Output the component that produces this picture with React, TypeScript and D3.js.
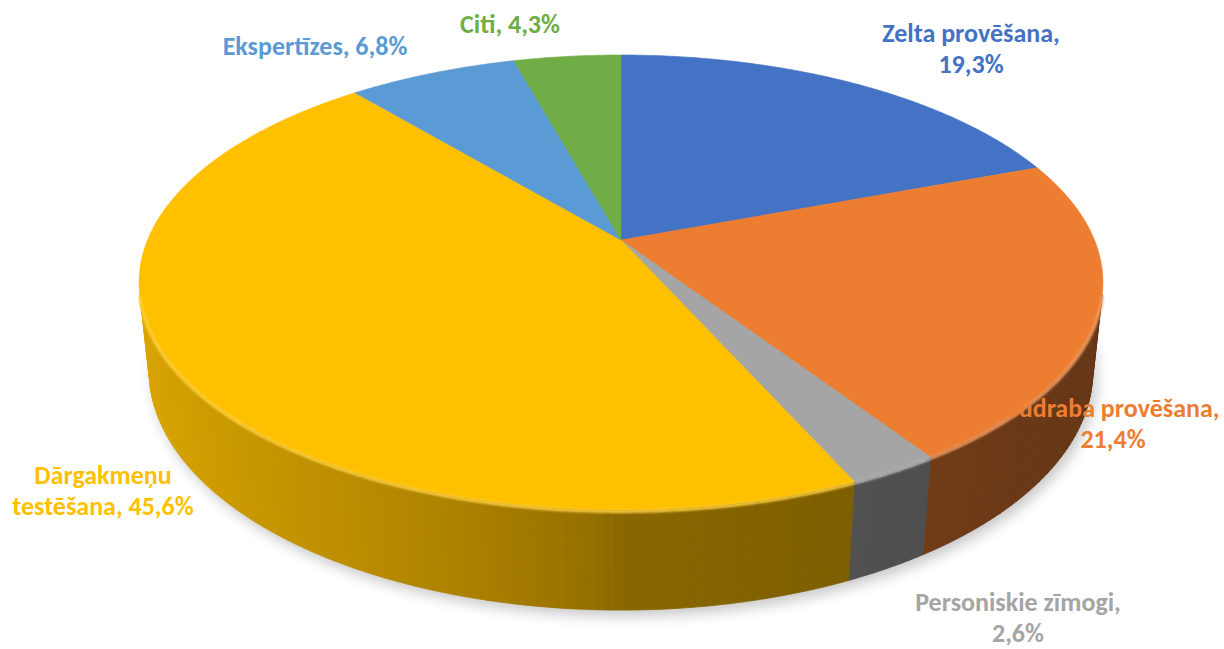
import React from 'react';
import * as d3 from 'd3';

const categories = ['Zelta provēšana', 'Sudraba provēšana', 'Personiskie zīmogi', 'Dārgakmeņu testēšana', 'Ekspertīzes', 'Citi'];
const values = [19.3, 21.4, 2.6, 45.6, 6.8, 4.3];
const colors = ['#4472C4', '#ED7D31', '#A5A5A5', '#FFC000', '#5B9BD5', '#70AD47'];
const labelLines = [
  ['Zelta provēšana,', '19,3%'],
  ['Sudraba provēšana,', '21,4%'],
  ['Personiskie zīmogi,', '2,6%'],
  ['Dārgakmeņu', 'testēšana, 45,6%'],
  ['Ekspertīzes, 6,8%'],
  ['Citi, 4,3%'],
];
// label anchors (center x, first baseline y)
const labelPos = [
  [971, 42],
  [1113, 417],
  [1018, 611],
  [103, 484],
  [315, 55],
  [510, 33],
];

const W = 1224, HGT = 649;
const CX = 621, CY = 240, F = 2247, D = 4.746;
const SA = 0.4637, CA = Math.sqrt(1 - SA * SA);
const DEPTH = 0.2125;
const LINE_H = 31;

function proj(theta: number, r: number, y: number): [number, number] {
  const X = r * Math.sin(theta);
  const Z = -r * Math.cos(theta);
  const u = y * CA - Z * SA;
  const dep = D - y * SA - Z * CA;
  return [CX + (F * X) / dep, CY - (F * u) / dep];
}

function shade(hex: string, f: number) {
  const c = d3.rgb(hex);
  return d3.rgb(c.r * f, c.g * f, c.b * f).formatHex();
}
function lighten(hex: string, t: number) {
  return d3.interpolateRgb(hex, '#ffffff')(t);
}

function wallFactor(theta: number) {
  const s = Math.sin(theta);
  return s < 0 ? 0.54 + 0.32 * Math.pow(-s, 0.7) : 0.54 - 0.12 * s;
}

const line = d3.line<[number, number]>();

export default function App() {
  const arcs = d3.pie<number>().sort(null).value((d) => d)(values);
  const visCos = -1 / (D * CA);
  const V0 = Math.acos(visCos);
  const V1 = 2 * Math.PI - V0;
  const step = Math.PI / 360;

  const bottomPts: [number, number][] = [];
  for (let t = 0; t <= 2 * Math.PI + 1e-9; t += step * 2) bottomPts.push(proj(t, 1.0, -DEPTH));

  const walls: JSX.Element[] = [];
  const rims: JSX.Element[] = [];
  const tops: JSX.Element[] = [];

  arcs.forEach((a, i) => {
    const col = colors[i];
    const pts: [number, number][] = [[CX, CY]];
    const n = Math.max(2, Math.ceil((a.endAngle - a.startAngle) / step));
    for (let k = 0; k <= n; k++) {
      const t = a.startAngle + ((a.endAngle - a.startAngle) * k) / n;
      pts.push(proj(t, 1, 0));
    }
    tops.push(<path key={'t' + i} d={line(pts) + 'Z'} fill={col} stroke={col} strokeWidth={0.6} strokeLinejoin="round" />);

    const w0 = Math.max(a.startAngle, V0);
    const w1 = Math.min(a.endAngle, V1);
    if (w1 > w0) {
      const m = Math.max(1, Math.ceil((w1 - w0) / (step * 2)));
      for (let k = 0; k < m; k++) {
        const t0 = w0 + ((w1 - w0) * k) / m;
        const t1 = w0 + ((w1 - w0) * (k + 1)) / m;
        const q: [number, number][] = [proj(t0, 1, 0), proj(t1, 1, 0), proj(t1, 1, -DEPTH), proj(t0, 1, -DEPTH)];
        const fc = shade(col, wallFactor((t0 + t1) / 2));
        walls.push(<path key={`w${i}-${k}`} d={line(q) + 'Z'} fill={fc} stroke={fc} strokeWidth={0.8} />);
      }
      const rp: [number, number][] = [];
      const rm = Math.ceil((w1 - w0) / step);
      for (let k = 0; k <= rm; k++) {
        const t = w0 + ((w1 - w0) * k) / rm;
        const p = proj(t, 1, 0);
        rp.push([p[0], p[1] + 1.5]);
      }
      rims.push(<path key={'r' + i} d={line(rp) || ''} fill="none" stroke={lighten(col, 0.25)} strokeWidth={3} filter="url(#blur1)" />);
    }
  });

  const font = "Carlito, Calibri, Lato, 'Open Sans', sans-serif";

  return (
    <svg width={W} height={HGT} style={{ position: 'absolute', left: 0, top: 0, background: '#fff' }} xmlns="http://www.w3.org/2000/svg">
      <defs>
        <filter id="shadowBlur" x="-20%" y="-20%" width="140%" height="140%">
          <feGaussianBlur stdDeviation={7} />
        </filter>
        <filter id="blur1" x="-5%" y="-5%" width="110%" height="110%">
          <feGaussianBlur stdDeviation={1} />
        </filter>
      </defs>
      <path d={line(bottomPts.map(([x, y]) => [x + 4, y + 6] as [number, number])) + 'Z'} fill="#000" opacity={0.22} filter="url(#shadowBlur)" />
      <g>{walls}</g>
      <g>{tops}</g>
      <g>{rims}</g>
      <g fontFamily={font} fontWeight={700} fontSize={26} textAnchor="middle">
        {labelLines.map((lines, i) => (
          <text key={'l' + i} x={labelPos[i][0]} y={labelPos[i][1]} fill={colors[i]}>
            {lines.map((s, j) => (
              <tspan key={j} x={labelPos[i][0]} dy={j === 0 ? 0 : LINE_H}>{s}</tspan>
            ))}
          </text>
        ))}
      </g>
      <title>{categories.join(', ')}</title>
    </svg>
  );
}
